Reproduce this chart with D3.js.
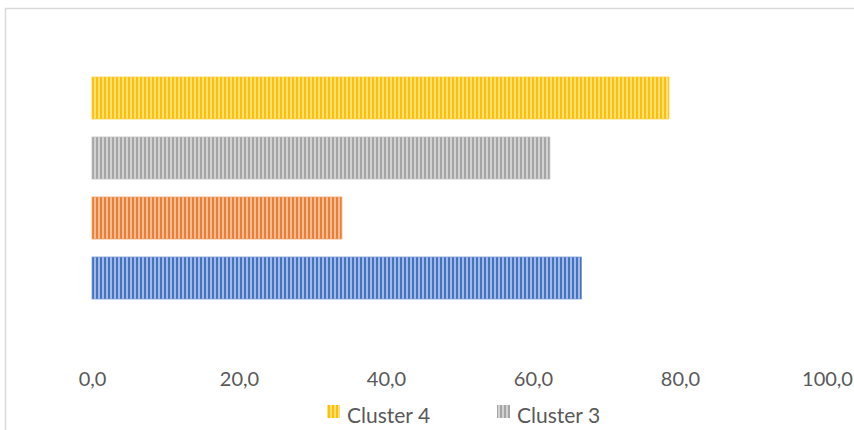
<!DOCTYPE html>
<html>
<head>
<meta charset="utf-8">
<script src="https://cdn.jsdelivr.net/npm/d3@7/dist/d3.min.js"></script>
<style>
  body { margin: 0; background: #fff; }
  svg { display: block; }
</style>
</head>
<body>
<svg id="chart" width="854" height="430"></svg>
<script>
// data
var clusters = ["Cluster 4", "Cluster 3", "Cluster 2", "Cluster 1"];
var values = [78.5, 62.3, 34.0, 66.6];
var colors = ["#FFC000", "#A5A5A5", "#ED7D31", "#4472C4"];
var tickValues = [0, 20, 40, 60, 80, 100];
var legendItems = ["Cluster 4", "Cluster 3"];

var svg = d3.select("#chart");
var fontFam = "Lato, 'Open Sans', sans-serif";

// chart frame, runs off the right and bottom edge
svg.append("rect")
    .attr("x", 5.5).attr("y", 8.5)
    .attr("width", 900).attr("height", 500)
    .attr("fill", "none")
    .attr("stroke", "#d9d9d9")
    .attr("stroke-width", 1.5);

var x = d3.scaleLinear().domain([0, 100]).range([92, 827]);
var y = d3.scaleBand().domain(clusters).range([68, 308])
    .paddingInner(0.3).paddingOuter(0.15);

// vertical stripe patterns
var defs = svg.append("defs");
colors.forEach(function (c, i) {
    var p = defs.append("pattern")
        .attr("id", "stripe" + i)
        .attr("patternUnits", "userSpaceOnUse")
        .attr("width", 4).attr("height", 10);
    p.append("rect").attr("width", 4).attr("height", 10)
        .attr("fill", d3.interpolateRgb(c, "#fff")(0.5));
    p.append("rect").attr("width", 2).attr("height", 10).attr("fill", c);
});

svg.append("g").selectAll("rect")
    .data(clusters)
    .join("rect")
    .attr("x", x(0))
    .attr("y", function (d) { return y(d); })
    .attr("width", function (d, i) { return x(values[i]) - x(0); })
    .attr("height", y.bandwidth())
    .attr("fill", function (d, i) { return "url(#stripe" + i + ")"; })
    .attr("stroke", function (d, i) { return d3.interpolateRgb(colors[i], "#fff")(0.3); })
    .attr("stroke-width", 0.8);

// x axis labels only, no line
var fmt = function (v) { return d3.format(".1f")(v).replace(".", ","); };
var axis = d3.axisBottom(x).tickValues(tickValues).tickFormat(fmt).tickSize(0).tickPadding(0);
var ax = svg.append("g").attr("transform", "translate(0,372)").call(axis);
ax.select(".domain").remove();
ax.selectAll("text")
    .attr("fill", "#595959")
    .style("font-family", fontFam)
    .style("font-size", "20px");

// legend
var lx = [327, 497];
legendItems.forEach(function (name, i) {
    var idx = clusters.indexOf(name);
    svg.append("rect")
        .attr("x", lx[i]).attr("y", 405)
        .attr("width", 13).attr("height", 13)
        .attr("fill", "url(#stripe" + idx + ")");
    svg.append("text")
        .attr("x", lx[i] + 20).attr("y", 423)
        .attr("fill", "#595959")
        .style("font-family", fontFam)
        .style("font-size", "21px")
        .text(name);
});
</script>
</body>
</html>
